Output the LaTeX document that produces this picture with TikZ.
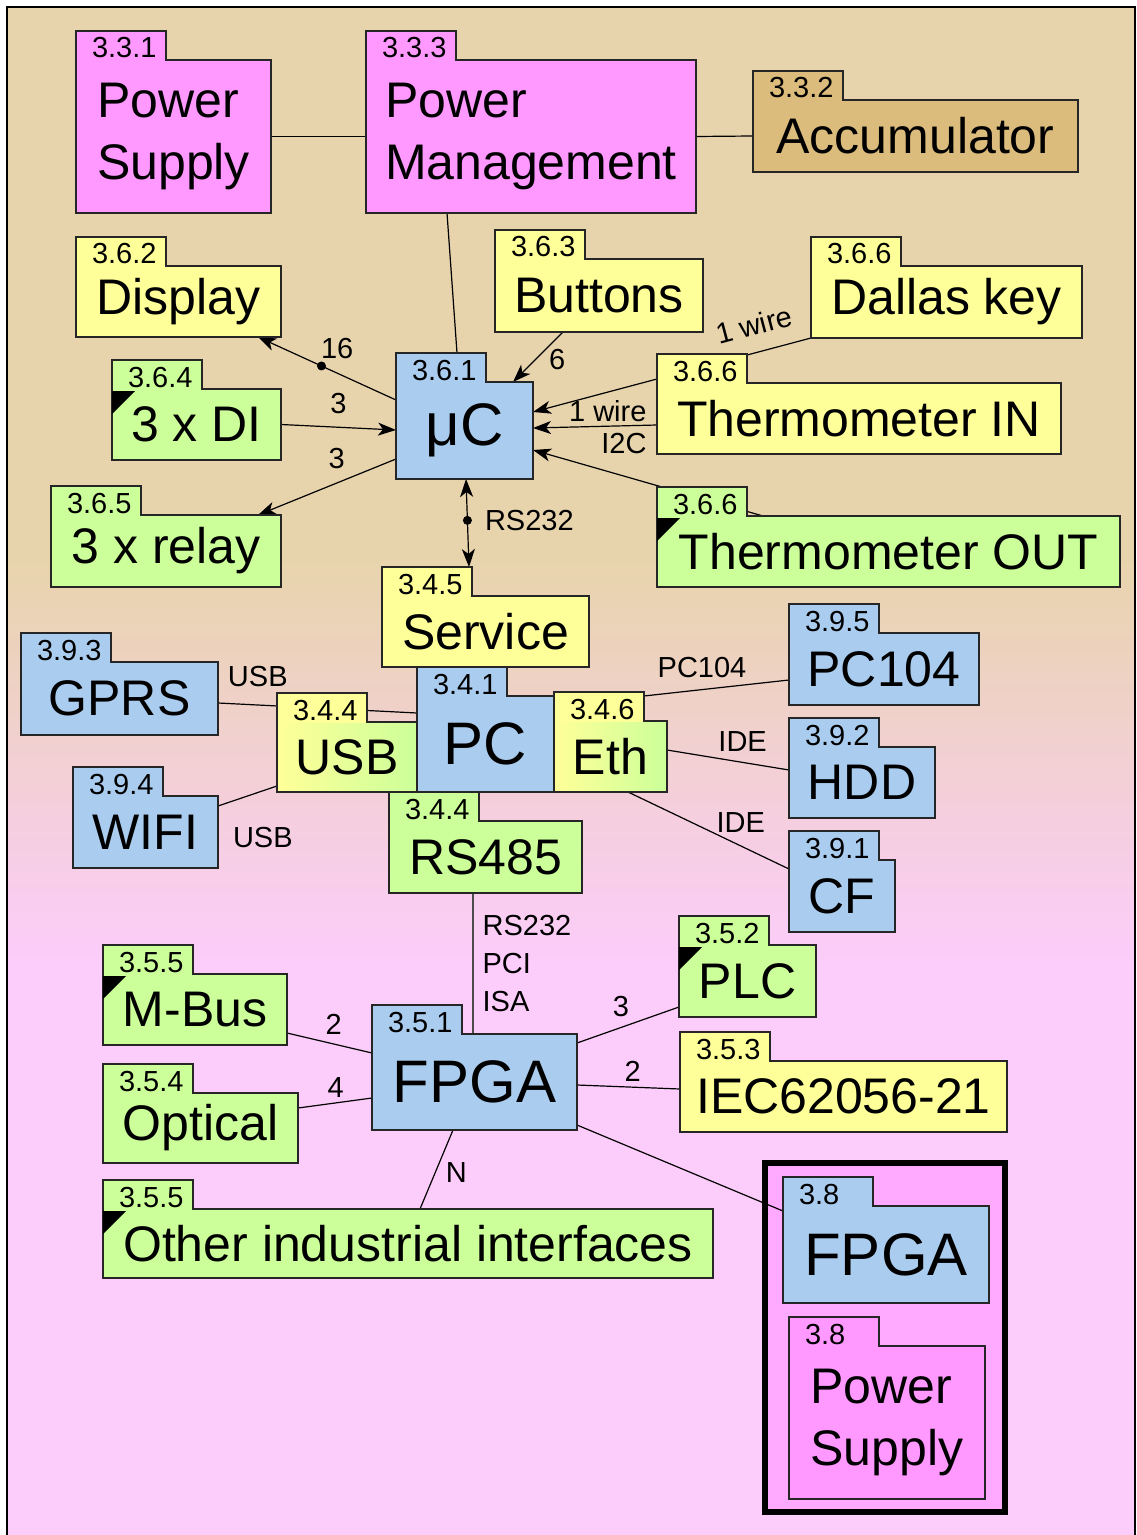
\documentclass[tikz,border=0pt]{standalone}
\usepackage{fontspec}
\setmainfont{Liberation Sans}
\usetikzlibrary{arrows.meta,calc,positioning}
\definecolor{tanbg}{RGB}{232,212,172}
\definecolor{pinkbg}{RGB}{252,204,250}
\definecolor{boxpink}{RGB}{255,153,255}
\definecolor{boxtan}{RGB}{219,188,124}
\definecolor{boxyellow}{RGB}{255,255,153}
\definecolor{boxgreen}{RGB}{204,255,153}
\definecolor{boxblue}{RGB}{170,204,238}
\definecolor{grppink}{RGB}{255,170,255}
\newcommand{\bodyfont}{\fontsize{25}{31}\selectfont}
\newcommand{\bigfont}{\fontsize{30}{36}\selectfont}
\newcommand{\tabfont}{\fontsize{14.5}{17}\selectfont}
\newcommand{\lblfont}{\fontsize{14.5}{19}\selectfont}
\pgfdeclarelayer{bg}
\pgfdeclarelayer{edges}
\pgfsetlayers{bg,edges,main}
\tikzset{
  basebox/.style={rectangle,draw=black!85,line width=0.6pt,inner sep=0pt,outer sep=0pt,align=left,font=\bodyfont},
  pinkbox/.style={basebox,fill=boxpink},
  tanbox/.style={basebox,fill=boxtan},
  ybox/.style={basebox,fill=boxyellow},
  gbox/.style={basebox,fill=boxgreen},
  bbox/.style={basebox,fill=boxblue},
  bigbox/.style={bbox,font=\bigfont},
  ygbox/.style={basebox,left color=boxyellow,right color=boxgreen},
  tabbox/.style={rectangle,draw=black!85,line width=0.6pt,inner sep=0pt,outer sep=0pt,
    text width=45pt,align=left,minimum height=14.5pt,text height=12.5pt,text depth=0pt,font=\tabfont},
  lbl/.style={inner sep=0pt,font=\lblfont},
  dotnode/.style={circle,fill,inner sep=0pt,minimum size=4.5pt},
  lnk/.style={line width=0.6pt},
  arr/.style={->,>={Stealth[length=9pt,width=6.5pt,inset=2.5pt]},line width=0.6pt},
  larr/.style={<-,>={Stealth[length=9pt,width=6.5pt,inset=2.5pt]},line width=0.6pt},
  darr/.style={<->,>={Stealth[length=9pt,width=6.5pt,inset=2.5pt]},line width=0.6pt}
}
% folder: name, style, tab colour, x, y (body top), width, height, number, text
\newcommand{\folderbox}[9]{%
  \node[#2,minimum width=#6*0.5pt,minimum height=#7*0.5pt,anchor=north west] (#1) at (#4,#5) {#9};
  \node[tabbox,fill=#3,anchor=south west] (#1-t) at (#1.north west) {\hspace*{8pt}#8};
  \fill[#3] ([xshift=0.35pt,yshift=-0.4pt]#1-t.south west) rectangle ([xshift=-0.35pt,yshift=0.4pt]#1-t.south east);
}
\newcommand{\markcorner}[1]{\fill ([yshift=-1pt]#1.north west) -- ++(23,0) -- ++(-23,23) -- cycle;}

\begin{document}
\begin{tikzpicture}[x=0.5pt,y=-0.5pt]
  \useasboundingbox (0,0) rectangle (1136,1535);

  \begin{pgfonlayer}{bg}
    \fill[tanbg] (7,7) rectangle (1136,560);
    \shade[top color=tanbg,bottom color=pinkbg] (7,560) rectangle (1136,960);
    \fill[pinkbg] (7,960) rectangle (1136,1535);
    \draw[line width=1.3pt] (7,1540) -- (7,7) -- (1135,7) -- (1135,1540);
    \draw[line width=2.6pt,fill=grppink] (765,1163) rectangle (1005,1512);
  \end{pgfonlayer}

  %% power
  \folderbox{ps1}{pinkbox}{boxpink}{76}{60}{195}{153}{3.3.1}{Power\\Supply}
  \folderbox{pm}{pinkbox}{boxpink}{366}{60}{330}{153}{3.3.3}{Power\\Management}
  \folderbox{acc}{tanbox}{boxtan}{753}{100}{325}{72}{3.3.2}{Accumulator}

  %% uC and peripherals
  \folderbox{disp}{ybox}{boxyellow}{76}{266}{205}{71}{3.6.2}{Display}
  \folderbox{btn}{ybox}{boxyellow}{495}{259}{208}{73}{3.6.3}{Buttons}
  \folderbox{dallas}{ybox}{boxyellow}{811}{266}{271}{72}{3.6.6}{Dallas key}
  \folderbox{uc}{bigbox}{boxblue}{396}{382}{137}{97}{3.6.1}{μC}
  \folderbox{di}{gbox}{boxgreen}{112}{389}{169}{71}{3.6.4}{3 x DI}
  \folderbox{relay}{gbox}{boxgreen}{51}{515}{230}{72}{3.6.5}{3 x relay}
  \folderbox{tin}{ybox}{boxyellow}{657}{383}{404}{71}{3.6.6}{Thermometer IN}
  \folderbox{tout}{gbox}{boxgreen}{657}{516}{463}{71}{3.6.6}{Thermometer OUT}

  %% PC
  \folderbox{serv}{ybox}{boxyellow}{382}{596}{207}{71}{3.4.5}{Service}
  \folderbox{pc}{bigbox}{boxblue}{417}{696}{137}{96}{3.4.1}{PC}
  \folderbox{usb}{ygbox}{boxyellow}{277}{722}{140}{70}{3.4.4}{USB}
  \folderbox{eth}{ygbox}{boxyellow}{554}{721}{113}{71}{3.4.6}{Eth}
  \folderbox{rs485}{gbox}{boxgreen}{389}{821}{193}{72}{3.4.4}{RS485}
  \folderbox{gprs}{bbox}{boxblue}{21}{662}{197}{73}{3.9.3}{GPRS}
  \folderbox{wifi}{bbox}{boxblue}{73}{796}{145}{72}{3.9.4}{WIFI}
  \folderbox{pc104}{bbox}{boxblue}{789}{633}{190}{72}{3.9.5}{PC104}
  \folderbox{hdd}{bbox}{boxblue}{789}{747}{146}{71}{3.9.2}{HDD}
  \folderbox{cf}{bbox}{boxblue}{789}{860}{106}{72}{3.9.1}{CF}

  %% FPGA
  \folderbox{mbus}{gbox}{boxgreen}{103}{974}{184}{71}{3.5.5}{M-Bus}
  \folderbox{opt}{gbox}{boxgreen}{103}{1093}{195}{70}{3.5.4}{Optical}
  \folderbox{fpga}{bigbox}{boxblue}{372}{1034}{205}{96}{3.5.1}{FPGA}
  \folderbox{other}{gbox}{boxgreen}{103}{1209}{610}{69}{3.5.5}{Other industrial interfaces}
  \folderbox{plc}{gbox}{boxgreen}{679}{945}{137}{72}{3.5.2}{PLC}
  \folderbox{iec}{ybox}{boxyellow}{680}{1061}{327}{71}{3.5.3}{IEC62056-21}
  \folderbox{fpga2}{bigbox}{boxblue}{783}{1206}{206}{97}{3.8}{FPGA}
  \folderbox{ps2}{pinkbox}{boxpink}{789}{1346}{196}{153}{3.8}{Power\\Supply}

  \markcorner{di}
  \markcorner{tout}
  \markcorner{mbus}
  \markcorner{other}
  \markcorner{plc}

  %% Connectors
  \begin{pgfonlayer}{edges}
    \draw[lnk] (ps1.east) -- (pm.west);
    \draw[lnk] (pm.east) -- (acc.west);
    \draw[lnk] ($(pm.south west)+(81,0)$) -- ($(uc-t.north west)+(61,0)$);

    \draw[arr] ($(uc.north west)+(0,18)$) -- node[dotnode,pos=.54] (d16) {}
      node[lbl,pos=.54,anchor=south west,xshift=-0.5pt,yshift=3.5pt]{16} ($(disp.south east)+(-23,0)$);
    \draw[arr] (di.east) -- node[lbl,above=6.5pt]{3} ($(uc.north west)+(0,48)$);
    \draw[arr] ($(uc.north west)+(0,77)$) -- node[lbl,pos=.43,above=7pt]{3} ($(relay.north east)+(-23,0)$);
    \draw[arr] ($(btn.south west)+(68,0)$) -- node[lbl,pos=.55,right=6.5pt]{6} ($(uc.north west)+(117,0)$);
    \draw[larr] ($(uc.north east)+(0,30)$) -- node[lbl,pos=.82,sloped,above=8pt]{1 wire} (dallas.south west);
    \draw[arr] ($(tin.north west)+(0,42)$) -- node[lbl,pos=.08,anchor=south east,yshift=1.5pt]{1 wire}
      node[lbl,pos=.08,anchor=north east,yshift=-3.5pt]{I2C} ($(uc.north east)+(0,46)$);
    \draw[arr] ($(tout.north west)+(106,0)$) -- ($(uc.north east)+(0,68)$);
    \draw[darr] ($(uc.south west)+(70,0)$) -- node[dotnode,pos=.47] (drs) {}
      node[lbl,pos=.47,right=8.5pt]{RS232} ($(serv-t.north west)+(87,0)$);

    \draw[lnk] ($(gprs.north east)+(0,41)$) -- node[lbl,pos=.2,above=9pt]{USB} ($(pc.north west)+(0,17)$);
    \draw[lnk] ($(wifi.north east)+(0,10)$) -- node[lbl,pos=.76,below=18pt]{USB} ($(usb.south west)+(0,-6)$);
    \draw[lnk] ($(eth-t.north east)+(0,4)$) -- node[lbl,pos=.4,above=5.5pt]{PC104} ($(pc104.north west)+(0,47)$);
    \draw[lnk] ($(eth.north east)+(0,29)$) -- node[lbl,pos=.62,above=5pt]{IDE} ($(hdd.north west)+(0,23)$);
    \draw[lnk] ($(eth.south west)+(74,0)$) -- node[lbl,pos=.7,above=6.5pt]{IDE} ($(cf.north west)+(0,9)$);
    \draw[lnk,draw=black!70] ($(rs485.south west)+(84,0)$) -- node[lbl,right=4.5pt,align=left]{RS232\\PCI\\ISA} ($(fpga.north west)+(101,0)$);

    \draw[lnk] ($(mbus.north east)+(0,59)$) -- node[lbl,pos=.55,above=4.5pt]{2} ($(fpga.north west)+(0,19)$);
    \draw[lnk] ($(opt.north east)+(0,15)$) -- node[lbl,pos=.51,above=2.5pt]{4} ($(fpga.north west)+(0,64)$);
    \draw[lnk] ($(fpga.south west)+(81,0)$) -- node[lbl,pos=.54,right=5pt]{N} ($(other.north west)+(317,0)$);
    \draw[lnk] ($(fpga.north east)+(0,9)$) -- node[lbl,pos=.43,above=5pt]{3} ($(plc.north west)+(0,62)$);
    \draw[lnk] ($(fpga.north east)+(0,51)$) -- node[lbl,pos=.54,above=2.5pt]{2} ($(iec.north west)+(0,28)$);
    \draw[lnk] ($(fpga.south east)+(0,-5)$) -- ($(fpga2.north west)+(0,5)$);
  \end{pgfonlayer}
\end{tikzpicture}
\end{document}
